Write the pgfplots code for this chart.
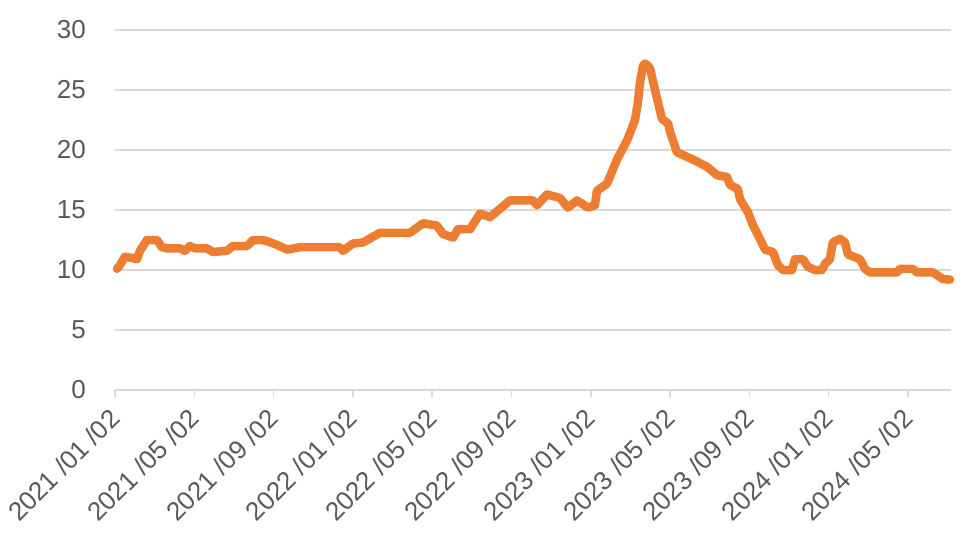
\documentclass[border=0pt]{standalone}
\usepackage{fontspec}
\setmainfont{Liberation Sans}
\usepackage{pgfplots}
\pgfplotsset{compat=1.18}
\definecolor{lineorange}{HTML}{ED7D31}
\definecolor{gridgray}{HTML}{D9D9D9}
\definecolor{labelgray}{HTML}{595959}
\begin{document}
\begin{tikzpicture}
\begin{axis}[
  at={(0pt,0pt)}, anchor=south west,
  width=836pt, height=360pt, scale only axis,
  xmin=0, xmax=42.17, ymin=0, ymax=30,
  axis lines=left,
  y axis line style={draw=none},
  x axis line style={draw=gridgray, line width=1.5pt, -},
  ytick={0,5,...,30},
  ytick style={draw=none},
  xtick={0,4,...,40},
  xticklabels={2021 /01 /02,2021 /05 /02,2021 /09 /02,2022 /01 /02,2022 /05 /02,2022 /09 /02,2023 /01 /02,2023 /05 /02,2023 /09 /02,2024 /01 /02,2024 /05 /02},
  xtick style={draw=gridgray, line width=1.5pt},
  tick align=outside,
  major tick length=7pt,
  ymajorgrids,
  grid style={draw=gridgray, line width=1.5pt},
  tick label style={font=\fontsize{26}{26}\selectfont, text=labelgray},
  yticklabel style={anchor=east, inner sep=0pt, xshift=-22pt},
  xticklabel style={xshift=-7pt, yshift=-10pt, rotate=45, anchor=north east, inner sep=0pt},
  /pgf/number format/assume math mode=true,
  clip=false,
]
\addplot[lineorange, line width=8.5pt, line join=round, line cap=round] coordinates {
(0.10,10.1) (0.25,10.4) (0.50,11.1) (0.91,11.0) (1.11,10.9) (1.26,11.6)
(1.61,12.5) (2.12,12.5) (2.37,11.9) (2.67,11.8) (3.28,11.8) (3.53,11.6)
(3.78,12.0) (4.04,11.8) (4.64,11.8) (4.94,11.5) (5.65,11.6) (5.95,12.0)
(6.66,12.0) (6.96,12.5) (7.41,12.5) (7.67,12.4) (8.17,12.1) (8.68,11.7)
(9.33,11.9) (10.84,11.9) (11.35,11.9) (11.50,11.6) (12.00,12.2) (12.51,12.3)
(13.37,13.1) (14.88,13.1) (15.54,13.9) (16.24,13.7) (16.54,13.0) (17.05,12.7)
(17.30,13.4) (17.91,13.4) (18.41,14.7) (18.92,14.4) (19.42,15.1) (19.92,15.8)
(21.08,15.8) (21.29,15.4) (21.79,16.3) (22.45,16.0) (22.85,15.2) (23.30,15.8)
(23.86,15.2) (24.21,15.4) (24.31,16.6) (24.82,17.2) (25.07,18.2) (25.32,19.2)
(25.83,20.8) (26.23,22.5) (26.38,24.0) (26.48,25.6) (26.63,27.0) (26.73,27.2)
(26.89,27.0) (26.99,26.8) (27.24,25.0) (27.59,22.6) (27.90,22.2) (28.00,21.5)
(28.35,19.8) (29.16,19.2) (29.87,18.6) (30.37,17.9) (30.87,17.75) (31.02,17.1)
(31.42,16.75) (31.53,15.9) (31.93,14.8) (32.18,13.75) (32.53,12.6) (32.79,11.7)
(33.19,11.5) (33.44,10.4) (33.69,10.0) (34.15,10.0) (34.30,10.9) (34.70,10.9)
(34.96,10.25) (35.31,10.0) (35.66,10.0) (35.81,10.5) (36.06,10.9) (36.21,12.3)
(36.57,12.6) (36.82,12.3) (36.97,11.3) (37.58,10.9) (37.83,10.1) (38.08,9.8)
(39.45,9.8) (39.60,10.1) (40.25,10.1) (40.45,9.8) (41.26,9.8) (41.76,9.25)
(42.12,9.2)
};
\end{axis}
\pgfresetboundingbox
\useasboundingbox (-115pt,-149pt) rectangle (845pt,390pt);
\end{tikzpicture}
\end{document}
